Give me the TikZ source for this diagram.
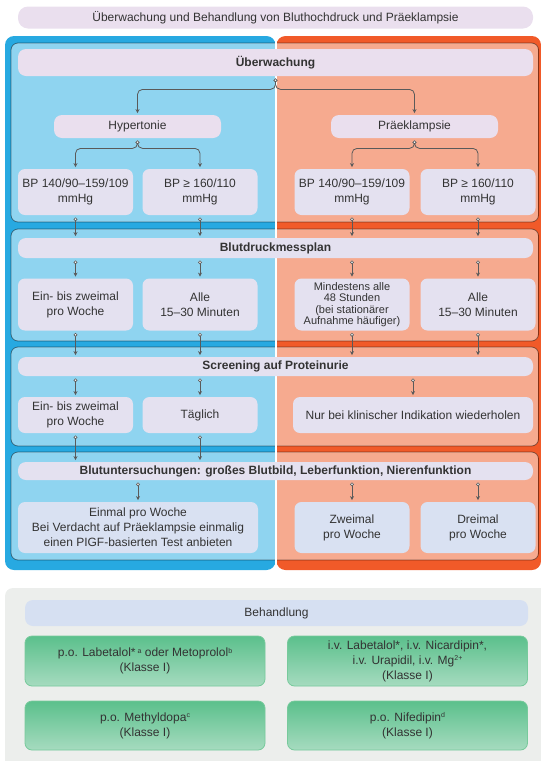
\documentclass[tikz,border=0pt]{standalone}
\usepackage{fontspec}
\setmainfont{Liberation Sans}
\usetikzlibrary{arrows.meta,positioning}
\definecolor{outerblue}{HTML}{27A9E1}
\definecolor{outerorange}{HTML}{F15A29}
\definecolor{lblue}{HTML}{8FD4F0}
\definecolor{salmon}{HTML}{F6AA8F}
\definecolor{lav}{HTML}{EADFEE}
\definecolor{boxlav}{HTML}{E4E1F0}
\definecolor{boxblu}{HTML}{D9E1F2}
\definecolor{behblue}{HTML}{D6E0F2}
\definecolor{panelgray}{HTML}{ECEEEC}
\definecolor{medtop}{HTML}{5BC08C}
\definecolor{medbot}{HTML}{A6DBBF}
\definecolor{medline}{HTML}{78CA9C}
\definecolor{cgray}{HTML}{5A5A5A}
\definecolor{txt}{HTML}{333333}
\newcommand{\hochz}[1]{\raisebox{3.5pt}{\fontsize{7}{7}\selectfont #1}}

\begin{document}
\begin{tikzpicture}[x=1pt,y=-1pt,>={Stealth[length=4pt,width=4pt]},line width=0.8pt]
	\tikzstyle{pill}=[rounded corners=8pt,fill=lav,text=txt,inner sep=2pt,align=center,
	font=\fontsize{12}{15}\selectfont
	]
	\tikzstyle{head}=[pill,fill=boxlav,minimum width=515pt,font=\fontsize{12}{15}\selectfont\bfseries];
	\tikzstyle{box}=[pill,rounded corners=7pt,fill=boxlav,minimum width=115pt];
	\tikzstyle{wbox}=[box,minimum width=240pt];
	\tikzstyle{med}=[box,top color=medtop,bottom color=medbot,draw=medline,minimum width=240pt];
	\tikzstyle{conn}=[draw=cgray,line width=0.8pt,
	arrows={Circle[length=3.8pt,width=3.8pt,fill=white,line width=0.6pt]-Stealth[length=4pt,width=4pt]},
	shorten <=2pt,shorten >=1.5pt];
	\tikzstyle{sec}=[draw=black,draw opacity=.45,line width=0.8pt,rounded corners=7pt];
\useasboundingbox (0,0) rectangle (541,761);

% panels
\fill[outerblue,rounded corners=9pt] (5,36) rectangle (275.5,570);
\fill[outerorange,rounded corners=9pt] (276.5,36) rectangle (541,570);
\foreach \t/\b in {43/222,229/341,347/446,452/560}{
	\begin{scope}
	\clip[rounded corners=7pt] (11,\t) rectangle (538.5,\b);
	\fill[lblue] (11,\t) rectangle (276,\b);
	\fill[salmon] (276,\t) rectangle (538.5,\b);
	\end{scope}
	\draw[sec] (11,\t) rectangle (538.5,\b);
}
\draw[white,line width=1.2pt] (276,36) -- (276,570);
\begin{scope}
\clip (0,0) rectangle (541,761);
\fill[panelgray,rounded corners=8pt] (5,588) rectangle (560,780);
\end{scope}

\node[pill,minimum width=515pt,minimum height=22pt,rounded corners=10pt](title) at (275.5,17.5){Überwachung und Behandlung von Bluthochdruck und Präeklampsie};

% Ueberwachung
\node[head,fill=lav,minimum height=27pt](uew) at (275.5,62.5){Überwachung};
\node[pill,minimum width=167pt,minimum height=23pt](hyp) at (137.5,126.5){Hypertonie};
\node[pill,minimum width=167pt,minimum height=23pt](pre) at (414.5,126.5){Präeklampsie};
\node[box,minimum height=46pt](hA) at (75.5,192){BP 140/90–159/109\\mmHg};
\node[box,minimum height=46pt](hB) at (200,192){BP ≥ 160/110\\mmHg};
\node[box,minimum height=46pt](pA) at (352,192){BP 140/90–159/109\\mmHg};
\node[box,minimum height=46pt](pB) at (478,192){BP ≥ 160/110\\mmHg};

% Blutdruckmessplan
\node[head,minimum height=20pt](bdm) at (275.5,248){Blutdruckmessplan};
\node[box,minimum height=52pt](bA) at (75.5,304.5){Ein- bis zweimal\\pro Woche};
\node[box,minimum height=52pt](bB) at (200,304.5){Alle\\15–30 Minuten};
\node[box,minimum height=52pt,font=\fontsize{11}{11.3}\selectfont](bC) at (352,304.5){Mindestens alle\\48 Stunden\\(bei stationärer\\Aufnahme häufiger)};
\node[box,minimum height=52pt](bD) at (478,304.5){Alle\\15–30 Minuten};

% Screening
\node[head,minimum height=19pt](scr) at (275.5,366.5){Screening auf Proteinurie};
\node[box,minimum height=36pt](sA) at (75.5,415){Ein- bis zweimal\\pro Woche};
\node[box,minimum height=36pt](sB) at (200,415){Täglich};
\node[wbox,minimum height=36pt](sC) at (413,415){Nur bei klinischer Indikation wiederholen};

% Blutuntersuchungen
\node[head,minimum height=18pt](blu) at (275.5,471){Blutuntersuchungen: großes Blutbild, Leberfunktion, Nierenfunktion};
\node[wbox,fill=boxblu,minimum height=51pt](uA) at (138,527.5){Einmal pro Woche\\Bei Verdacht auf Präeklampsie einmalig\\einen PIGF-basierten Test anbieten};
\node[box,fill=boxblu,minimum height=51pt](uB) at (352,527.5){Zweimal\\pro Woche};
\node[box,fill=boxblu,minimum height=51pt](uC) at (478,527.5){Dreimal\\pro Woche};

% Behandlung
\node[pill,fill=behblue,minimum width=503pt,minimum height=26pt](beh) at (276.5,613){Behandlung};
\node[med,minimum height=50pt](tA) at (145,661){p.o. Labetalol*\,\hochz{a} oder Metoprolol\hochz{b}\\(Klasse I)};
\node[med,minimum height=50pt](tB) at (407.5,661){i.v. Labetalol*, i.v. Nicardipin*,\\i.v. Urapidil, i.v. Mg\hochz{2+}\\(Klasse I)};
\node[med,minimum height=49pt](tC) at (145,725.5){p.o. Methyldopa\hochz{c}\\(Klasse I)};
\node[med,minimum height=49pt](tD) at (407.5,725.5){p.o. Nifedipin\hochz{d}\\(Klasse I)};

\draw[conn,rounded corners=5pt] (uew.south) -- ++(0,13) -| (hyp.north);
\draw[conn,rounded corners=5pt] (uew.south) -- ++(0,13) -| (pre.north);
\draw[conn,rounded corners=5pt] (hyp.south) -- ++(0,10) -| (hA.north);
\draw[conn,rounded corners=5pt] (hyp.south) -- ++(0,10) -| (hB.north);
\draw[conn,rounded corners=5pt] (pre.south) -- ++(0,10) -| (pA.north);
\draw[conn,rounded corners=5pt] (pre.south) -- ++(0,10) -| (pB.north);

\foreach \n in {hA,hB,pA,pB}
	\draw[conn] (\n.south) -- (\n.south |- bdm.north);
\foreach \n in {bA,bB,bC,bD}{
	\draw[conn] (\n.north |- bdm.south) -- (\n.north);
	\draw[conn] (\n.south) -- (\n.south |- scr.north);
}
\foreach \n in {sA,sB,sC}
	\draw[conn] (\n.north |- scr.south) -- (\n.north);
\foreach \n in {sA,sB}
	\draw[conn] (\n.south) -- (\n.south |- blu.north);
\foreach \n in {uA,uB,uC}
	\draw[conn] (\n.north |- blu.south) -- (\n.north);

\end{tikzpicture}
\end{document}
